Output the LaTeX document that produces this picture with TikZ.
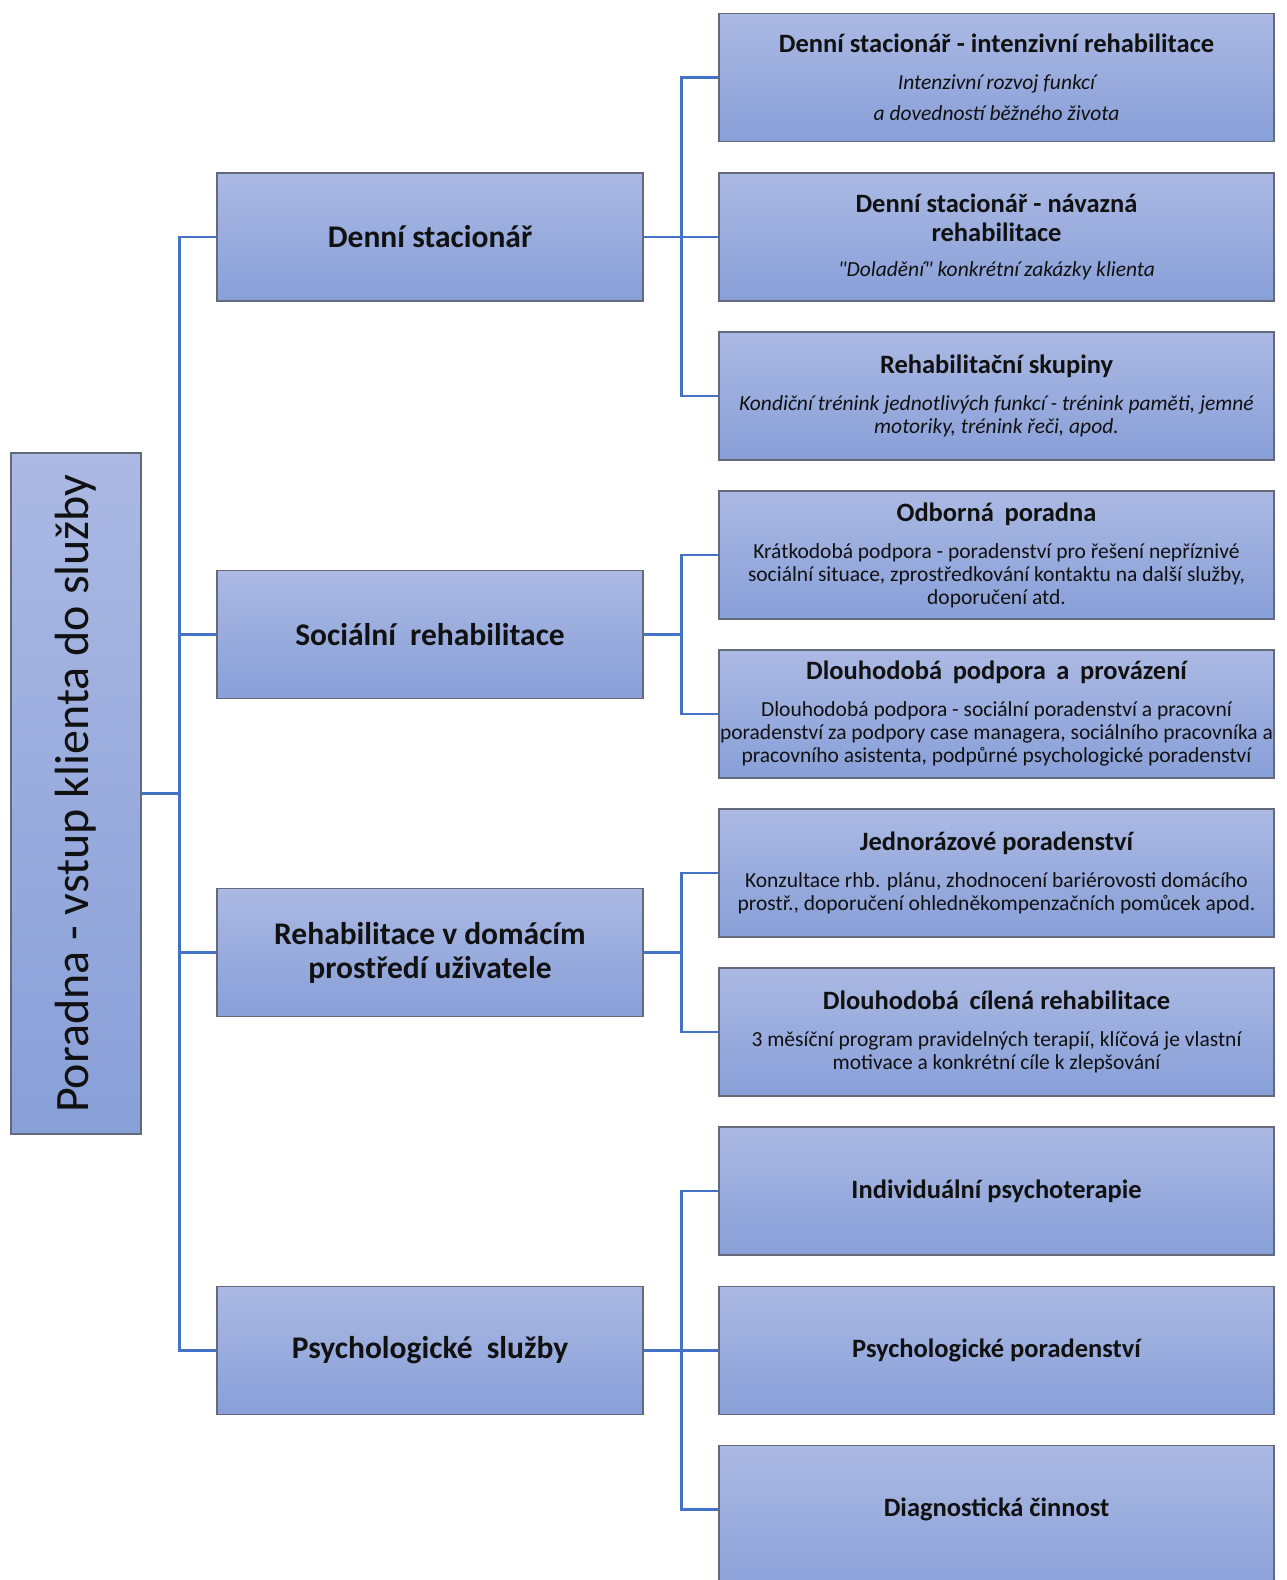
\documentclass[tikz,border=0pt]{standalone}
\usepackage{fontspec}
\setmainfont{Carlito}[Ligatures=TeXOff]
\definecolor{topc}{RGB}{171,185,227}
\definecolor{botc}{RGB}{136,159,216}
\definecolor{edgec}{RGB}{100,106,122}
\definecolor{linec}{RGB}{68,114,196}
\definecolor{txt}{RGB}{17,17,17}
\newcommand{\ttl}{\fontsize{26.5}{29}\selectfont\bfseries}
\newcommand{\dsc}{\fontsize{21.5}{23}\selectfont}
\tikzset{
  boxbase/.style={rectangle, draw=edgec, line width=1.3pt, top color=topc, bottom color=botc, inner sep=0pt, align=center, text=txt},
  rootbox/.style={boxbase, minimum width=130pt, minimum height=681pt, font=\fontsize{48}{56}\selectfont},
  midbox/.style={boxbase, minimum width=426pt, minimum height=128pt, font=\fontsize{31.5}{34}\selectfont\bfseries},
  leafbox/.style={boxbase, minimum width=555pt, minimum height=128pt, font=\dsc},
  conn/.style={draw=linec, line width=2.4pt},
}
\begin{document}
\begin{tikzpicture}[x=1pt,y=-1pt]
\useasboundingbox (0,0) rectangle (1286,1580);
% root
\node[rootbox] (root) at (76,793.5) {\rotatebox{90}{Poradna - vstup klienta do služby}};
% level 2
\node[midbox] (ds) at (430,237) {Denní stacionář};
\node[midbox] (sr) at (430,634.5) {Sociální\hspace{0.45em}rehabilitace};
\node[midbox] (rd) at (430,952.5) {Rehabilitace v domácím\\prostředí uživatele};
\node[midbox] (ps) at (430,1350.5) {Psychologické\hspace{0.45em}služby};
% level 3
\node[leafbox] (k1) at (996.5,77.5) {{\ttl Denní stacionář - intenzivní rehabilitace}\\[14pt]{\itshape Intenzivní rozvoj funkcí}\\[8pt]{\itshape a dovedností běžného života}};
\node[leafbox] (k2) at (996.5,237) {{\ttl Denní stacionář - návazná}\\[6pt]{\ttl rehabilitace}\\[12pt]{\itshape "Doladění" konkrétní zakázky klienta}};
\node[leafbox] (k3) at (996.5,396) {{\ttl Rehabilitační skupiny}\\[14pt]{\itshape Kondiční trénink jednotlivých funkcí - trénink paměti, jemné}\\{\itshape motoriky, trénink řeči, apod.}};
\node[leafbox] (k4) at (996.5,555) {{\ttl Odborná\hspace{0.4em}poradna}\\[14pt]Krátkodobá podpora - poradenství pro řešení nepříznivé\\sociální situace, zprostředkování kontaktu na další služby,\\doporučení atd.};
\node[leafbox] (k5) at (996.5,714) {{\ttl Dlouhodobá\hspace{0.4em}podpora\hspace{0.4em}a\hspace{0.4em}provázení}\\[14pt]Dlouhodobá podpora - sociální poradenství a pracovní\\poradenství za podpory case managera, sociálního pracovníka a\\pracovního asistenta, podpůrné psychologické poradenství};
\node[leafbox] (k6) at (996.5,873) {{\ttl Jednorázové poradenství}\\[14pt]Konzultace rhb. plánu, zhodnocení bariérovosti domácího\\prostř., doporučení ohledněkompenzačních pomůcek apod.};
\node[leafbox] (k7) at (996.5,1032) {{\ttl Dlouhodobá\hspace{0.4em}cílená rehabilitace}\\[14pt]3 měsíční program pravidelných terapií, klíčová je vlastní\\motivace a konkrétní cíle k zlepšování};
\node[leafbox] (k8) at (996.5,1191) {{\ttl Individuální psychoterapie}};
\node[leafbox] (k9) at (996.5,1350.5) {{\ttl Psychologické poradenství}};
\node[leafbox, anchor=north, minimum height=160pt] (k10) at (996.5,1445) {};
\node[font=\ttl, text=txt, inner sep=0pt] (k10t) at (996.5,1509.5) {Diagnostická činnost};
% connectors root -> level 2
\draw[conn] (root.east) -- ++(38,0) |- (ds.west);
\draw[conn] (root.east) -- ++(38,0) |- (sr.west);
\draw[conn] (root.east) -- ++(38,0) |- (rd.west);
\draw[conn] (root.east) -- ++(38,0) |- (ps.west);
% level 2 -> level 3
\draw[conn] (ds.east) -- ++(38,0) |- (k1.west);
\draw[conn] (ds.east) -- ++(38,0) |- (k2.west);
\draw[conn] (ds.east) -- ++(38,0) |- (k3.west);
\draw[conn] (sr.east) -- ++(38,0) |- (k4.west);
\draw[conn] (sr.east) -- ++(38,0) |- (k5.west);
\draw[conn] (rd.east) -- ++(38,0) |- (k6.west);
\draw[conn] (rd.east) -- ++(38,0) |- (k7.west);
\draw[conn] (ps.east) -- ++(38,0) |- (k8.west);
\draw[conn] (ps.east) -- ++(38,0) |- (k9.west);
\draw[conn] (ps.east) -- ++(38,0) |- (k10t -| k10.west);
\end{tikzpicture}
\end{document}
